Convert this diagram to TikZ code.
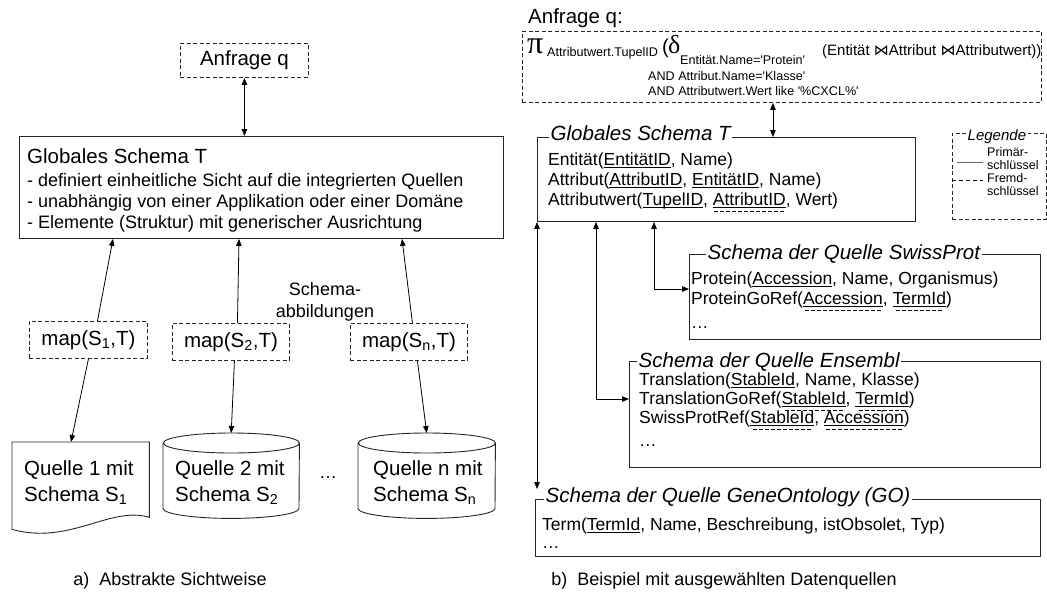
\documentclass[tikz,border=0pt]{standalone}
\usepackage{fontspec}
\setmainfont{Liberation Sans}
\newfontfamily\greekfont{Liberation Serif}
\newfontfamily\joinfont{DejaVu Sans}
\usetikzlibrary{arrows.meta,calc}

\newsavebox\keybox
% primary key: solid underline
\newcommand{\pk}[1]{\sbox\keybox{#1}\rlap{\rule[-2.8pt]{\wd\keybox}{1.3pt}}\usebox\keybox}
% primary and foreign key: solid and dashed underline
\newcommand{\pfk}[1]{\sbox\keybox{#1}\rlap{\rule[-2.8pt]{\wd\keybox}{1.3pt}}%
  \rlap{\lower7pt\hbox to\wd\keybox{\cleaders\hbox{\kern1pt\vrule width 4pt height 1.2pt\kern1pt}\hfill}}\usebox\keybox}
\newcommand{\join}{{\joinfont ⋈}}

\begin{document}
\begin{tikzpicture}[x=1pt, y=-1pt,
    box/.style={draw=black!85, line width=0.9pt, inner sep=0pt, anchor=north west},
    dbox/.style={box, dash pattern=on 4pt off 2.5pt},
    frame/.style={inner sep=0pt, anchor=north west},
    big/.style={font=\fontsize{20.5}{23}\selectfont},
    txt/.style={font=\fontsize{17.5}{20}\selectfont, inner sep=0pt, anchor=base west},
    small/.style={font=\fontsize{12.6}{14}\selectfont, inner sep=0pt, anchor=base west},
    ttl/.style={font=\fontsize{20.5}{23}\selectfont\itshape, fill=white, inner xsep=1.5pt, inner ysep=0pt,
        text height=11pt, text depth=2pt, anchor=base west},
    arr/.style={-{Triangle[length=7pt,width=5.5pt]}, line width=0.8pt},
    dbl/.style={{Triangle[length=7pt,width=5.5pt]}-{Triangle[length=7pt,width=5.5pt]}, line width=0.8pt}]

    \useasboundingbox (0,0) rectangle (1047,600);

    % a) abstract view
    \node[dbox, big, minimum width=128pt, minimum height=34pt] (anf) at (180,43) {Anfrage q};
    \node[box, minimum width=484pt, minimum height=102pt] (ga) at (19,136) {};
    \node[txt, big] (ga0) at (27,163) {Globales Schema T};
    \node[txt, font=\fontsize{18}{20}\selectfont] (ga1) at (27,186) {- definiert einheitliche Sicht auf die integrierten Quellen};
    \node[txt, font=\fontsize{18}{20}\selectfont] (ga2) at (27,207) {- unabhängig von einer Applikation oder einer Domäne};
    \node[txt, font=\fontsize{18}{20}\selectfont] (ga3) at (27,228) {- Elemente (Struktur) mit generischer Ausrichtung};
    \draw[dbl] (anf.south) -- (anf.south |- ga.north);

    % mappings
    \node[dbox, big, minimum width=118pt, minimum height=37pt] (m1) at (29,321) {map(S\textsubscript{1},T)};
    \node[dbox, big, minimum width=117pt, minimum height=37pt] (m2) at (172,323) {map(S\textsubscript{2},T)};
    \node[dbox, big, minimum width=117pt, minimum height=37pt] (mn) at (350,323) {map(S\textsubscript{n},T)};
    \node[font=\fontsize{18}{22}\selectfont, align=center, inner sep=0pt] (lbl) at (325,302) {Schema-\\abbildungen};

    % sources
    \node[frame, minimum width=137pt, minimum height=93pt] (q1) at (12,442) {};
    \node[frame, minimum width=136pt, minimum height=85pt] (q2) at (163,433) {};
    \node[frame, minimum width=137pt, minimum height=85pt] (qn) at (358,433) {};
    \draw[black!85, line width=0.9pt] (q1.north west) -- (q1.north east) -- ([yshift=18pt]q1.south east)
        .. controls ([xshift=-39pt,yshift=30pt]q1.south east) and ([xshift=58pt,yshift=-10pt]q1.south west) .. ([yshift=6pt]q1.south west) -- cycle;
    \foreach \c/\r in {q2/68pt, qn/68.5pt} {
        \draw[black!85, line width=0.9pt] ([yshift=-10pt]\c.north west) -- ([yshift=10pt]\c.south west)
            arc[start angle=180, end angle=360, x radius=\r, y radius=10pt] -- ([yshift=-10pt]\c.north east)
            arc[start angle=0, end angle=180, x radius=\r, y radius=10pt]
            arc[start angle=180, end angle=360, x radius=\r, y radius=10pt];
    }
    \node[txt, big] (q1a) at (24,475) {Quelle 1 mit};
    \node[txt, big] (q1b) at (24,501) {Schema S\textsubscript{1}};
    \node[txt, big] (q2a) at (175,475) {Quelle 2 mit};
    \node[txt, big] (q2b) at (175,501) {Schema S\textsubscript{2}};
    \node[txt, big] (qna) at (373,475) {Quelle n mit};
    \node[txt, big] (qnb) at (373,501) {Schema S\textsubscript{n}};
    \node[font=\fontsize{18}{20}\selectfont, inner sep=0pt] (dots) at (328,478) {…};

    \draw[arr] ([xshift=9pt]m1.north) -- ([xshift=94pt]ga.south west);
    \draw[arr] ([xshift=6.5pt]m2.north) -- ([xshift=220pt]ga.south west);
    \draw[arr] ([xshift=3.5pt]mn.north) -- ([xshift=383pt]ga.south west);
    \draw[arr] (m1.south) -- ([xshift=59pt]q1.north west);
    \draw[arr] ([xshift=3.5pt]m2.south) -- (q2.north);
    \draw[arr] ([xshift=8.5pt]mn.south) -- (qn.north);

    % b) example
    \node[txt, big] (qlbl) at (528,23) {Anfrage q:};
    \node[dbox, minimum width=519pt, minimum height=71pt] (query) at (522,31) {};
    \node[txt, font=\greekfont\fontsize{32}{32}\selectfont] (pi) at (527,53) {π};
    \node[small] (pisub) at (547,56) {Attributwert.TupelID};
    \node[txt, font=\fontsize{20}{20}\selectfont] (par) at (662,53) {(};
    \node[txt, font=\greekfont\fontsize{26}{26}\selectfont] (delta) at (668,53) {δ};
    \node[small] (sel1) at (680,64) {Entität.Name=\textquotesingle Protein\textquotesingle};
    \node[small] (sel2) at (648,80) {AND Attribut.Name=\textquotesingle Klasse\textquotesingle};
    \node[small] (sel3) at (648,95) {AND Attributwert.Wert like \textquotesingle\%CXCL\%\textquotesingle};
    \node[txt, font=\fontsize{15}{15}\selectfont] (join) at (822,55) {(Entität \join Attribut \join Attributwert))};

    % global schema
    \node[box, minimum width=378pt, minimum height=84pt] (gs) at (537,137) {};
    \node[ttl] (gst) at (549,140) {Globales Schema T};
    \node[txt] (gs1) at (548,165) {Entität(\pk{EntitätID}, Name)};
    \node[txt] (gs2) at (548,185) {Attribut(\pk{AttributID}, \pk{EntitätID}, Name)};
    \node[txt] (gs3) at (548,205) {Attributwert(\pk{TupelID}, \pfk{AttributID}, Wert)};
    \draw[dbl] ([xshift=-9pt]query.south) -- ([xshift=-9pt]query.south |- gs.north);

    % legend
    \node[dbox, minimum width=94pt, minimum height=86pt] (leg) at (952,133) {};
    \node[ttl, font=\fontsize{15}{15}\selectfont\itshape, text height=8pt] (legt) at (966,140) {Legende};
    \node[small, font=\fontsize{12.5}{14}\selectfont] (lp1) at (987,156) {Primär-};
    \node[small, font=\fontsize{12.5}{14}\selectfont] (lp2) at (987,169) {schlüssel};
    \node[small, font=\fontsize{12.5}{14}\selectfont] (lf1) at (987,182) {Fremd-};
    \node[small, font=\fontsize{12.5}{14}\selectfont] (lf2) at (987,195) {schlüssel};
    \draw[black!60, line width=1pt] (957,162) -- (983,162);
    \draw[line width=0.8pt, dash pattern=on 4pt off 3pt] (952,180) -- (983,180);

    % SwissProt
    \node[box, minimum width=351pt, minimum height=85pt] (sp) at (689,254) {};
    \node[ttl] (spt) at (706,259) {Schema der Quelle SwissProt};
    \node[txt] (sp1) at (691,284) {Protein(\pk{Accession}, Name, Organismus)};
    \node[txt] (sp2) at (691,304) {ProteinGoRef(\pfk{Accession}, \pfk{TermId})};
    \node[txt] (sp3) at (691,328) {…};

    % Ensembl
    \node[box, minimum width=411pt, minimum height=106pt] (en) at (629,361) {};
    \node[ttl] (ent) at (637,367) {Schema der Quelle Ensembl};
    \node[txt] (en1) at (639,385) {Translation(\pk{StableId}, Name, Klasse)};
    \node[txt] (en2) at (639,404) {TranslationGoRef(\pfk{StableId}, \pfk{TermId})};
    \node[txt] (en3) at (639,423) {SwissProtRef(\pfk{StableId}, \pfk{Accession})};
    \node[txt] (en4) at (639,446) {…};

    % GeneOntology
    \node[box, minimum width=505pt, minimum height=57pt] (go) at (535,499) {};
    \node[ttl] (got) at (544,502) {Schema der Quelle GeneOntology (GO)};
    \node[txt] (go1) at (542,530) {Term(\pk{TermId}, Name, Beschreibung, istObsolet, Typ)};
    \node[txt] (go2) at (542,548) {…};

    \draw[dbl] ([xshift=117pt]gs.south west) |- ([yshift=-35pt]sp.north west);
    \draw[dbl] ([xshift=59pt]gs.south west) |- ([yshift=-38pt]en.north west);
    \draw[dbl] (gs.south west) -- ($(gs.south west |- go.north west)+(0,-10)$);

    % captions
    \node[txt, font=\fontsize{18}{20}\selectfont, anchor=base] (capa) at (170,585) {a)\ \ Abstrakte Sichtweise};
    \node[txt, font=\fontsize{18}{20}\selectfont, anchor=base] (capb) at (724,585) {b)\ \ Beispiel mit ausgewählten Datenquellen};

\end{tikzpicture}
\end{document}
